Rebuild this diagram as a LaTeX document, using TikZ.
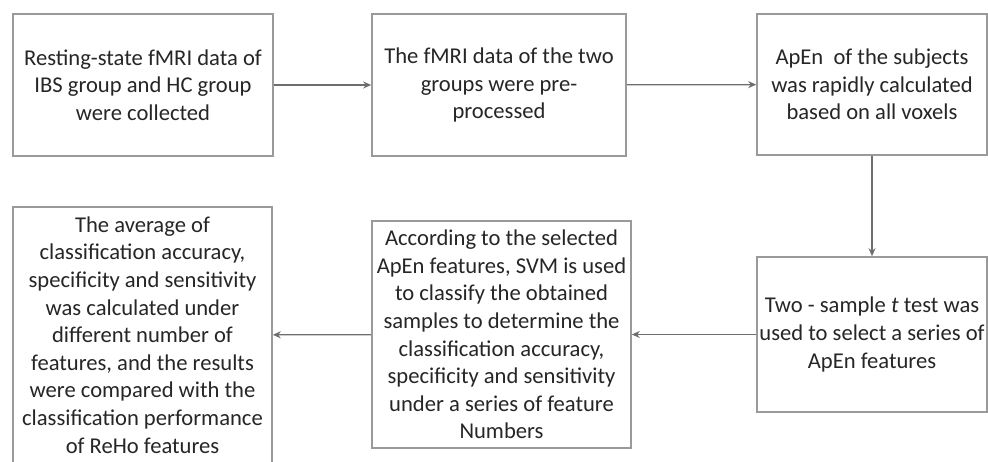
\documentclass[tikz,border=0pt]{standalone}
\usepackage{fontspec}
\setmainfont{Carlito}
\usetikzlibrary{arrows.meta}
\definecolor{boxline}{HTML}{9A9A9A}
\definecolor{arrline}{HTML}{6E6E6E}
\definecolor{txt}{HTML}{262626}
\tikzset{
  flowbox/.style={draw=boxline, line width=1.6pt, fill=white, inner sep=0pt,
    align=center, text=txt, font=\fontsize{22.6}{27.6}\selectfont},
  flowarrow/.style={draw=arrline, line width=1.3pt, -{Stealth[length=8pt,width=7pt]}}
}
\begin{document}
\begin{tikzpicture}[x=1pt,y=-1pt]
\useasboundingbox (0,0) rectangle (988,461);
\clip (0,0) rectangle (988,461);
\node[flowbox, minimum width=260pt, minimum height=142pt] (b1) at (143,85)
  {Resting-state fMRI data of\\IBS group and HC group\\were collected};
\node[flowbox, minimum width=254pt, minimum height=142pt] (b2) at (499,85)
  {The fMRI data of the two\\groups were pre-\\processed};
\node[flowbox, minimum width=230pt, minimum height=141pt] (b3) at (872,84.5)
  {ApEn\ \ of the subjects\\was rapidly calculated\\based on all voxels};
\node[flowbox, minimum width=230pt, minimum height=155pt] (b4) at (872,334.5)
  {Two - sample \textit{t} test was\\used to select a series of\\ApEn features};
\node[flowbox, minimum width=259pt, minimum height=227pt] (b5) at (501.5,334.5)
  {According to the selected\\ApEn features, SVM is used\\to classify the obtained\\samples to determine the\\classification accuracy,\\specificity and sensitivity\\under a series of feature\\Numbers};
\node[flowbox, minimum width=259pt, minimum height=256pt] (b6) at (142.5,335)
  {The average of\\classification accuracy,\\specificity and sensitivity\\was calculated under\\different number of\\features, and the results\\were compared with the\\classification performance\\of ReHo features};
\draw[flowarrow] (b1) -- (b2);
\draw[flowarrow] (b2) -- (b3);
\draw[flowarrow] (b3) -- (b4);
\draw[flowarrow] (b4) -- (b5);
\draw[flowarrow] (b5) -- (b6);
\end{tikzpicture}
\end{document}
